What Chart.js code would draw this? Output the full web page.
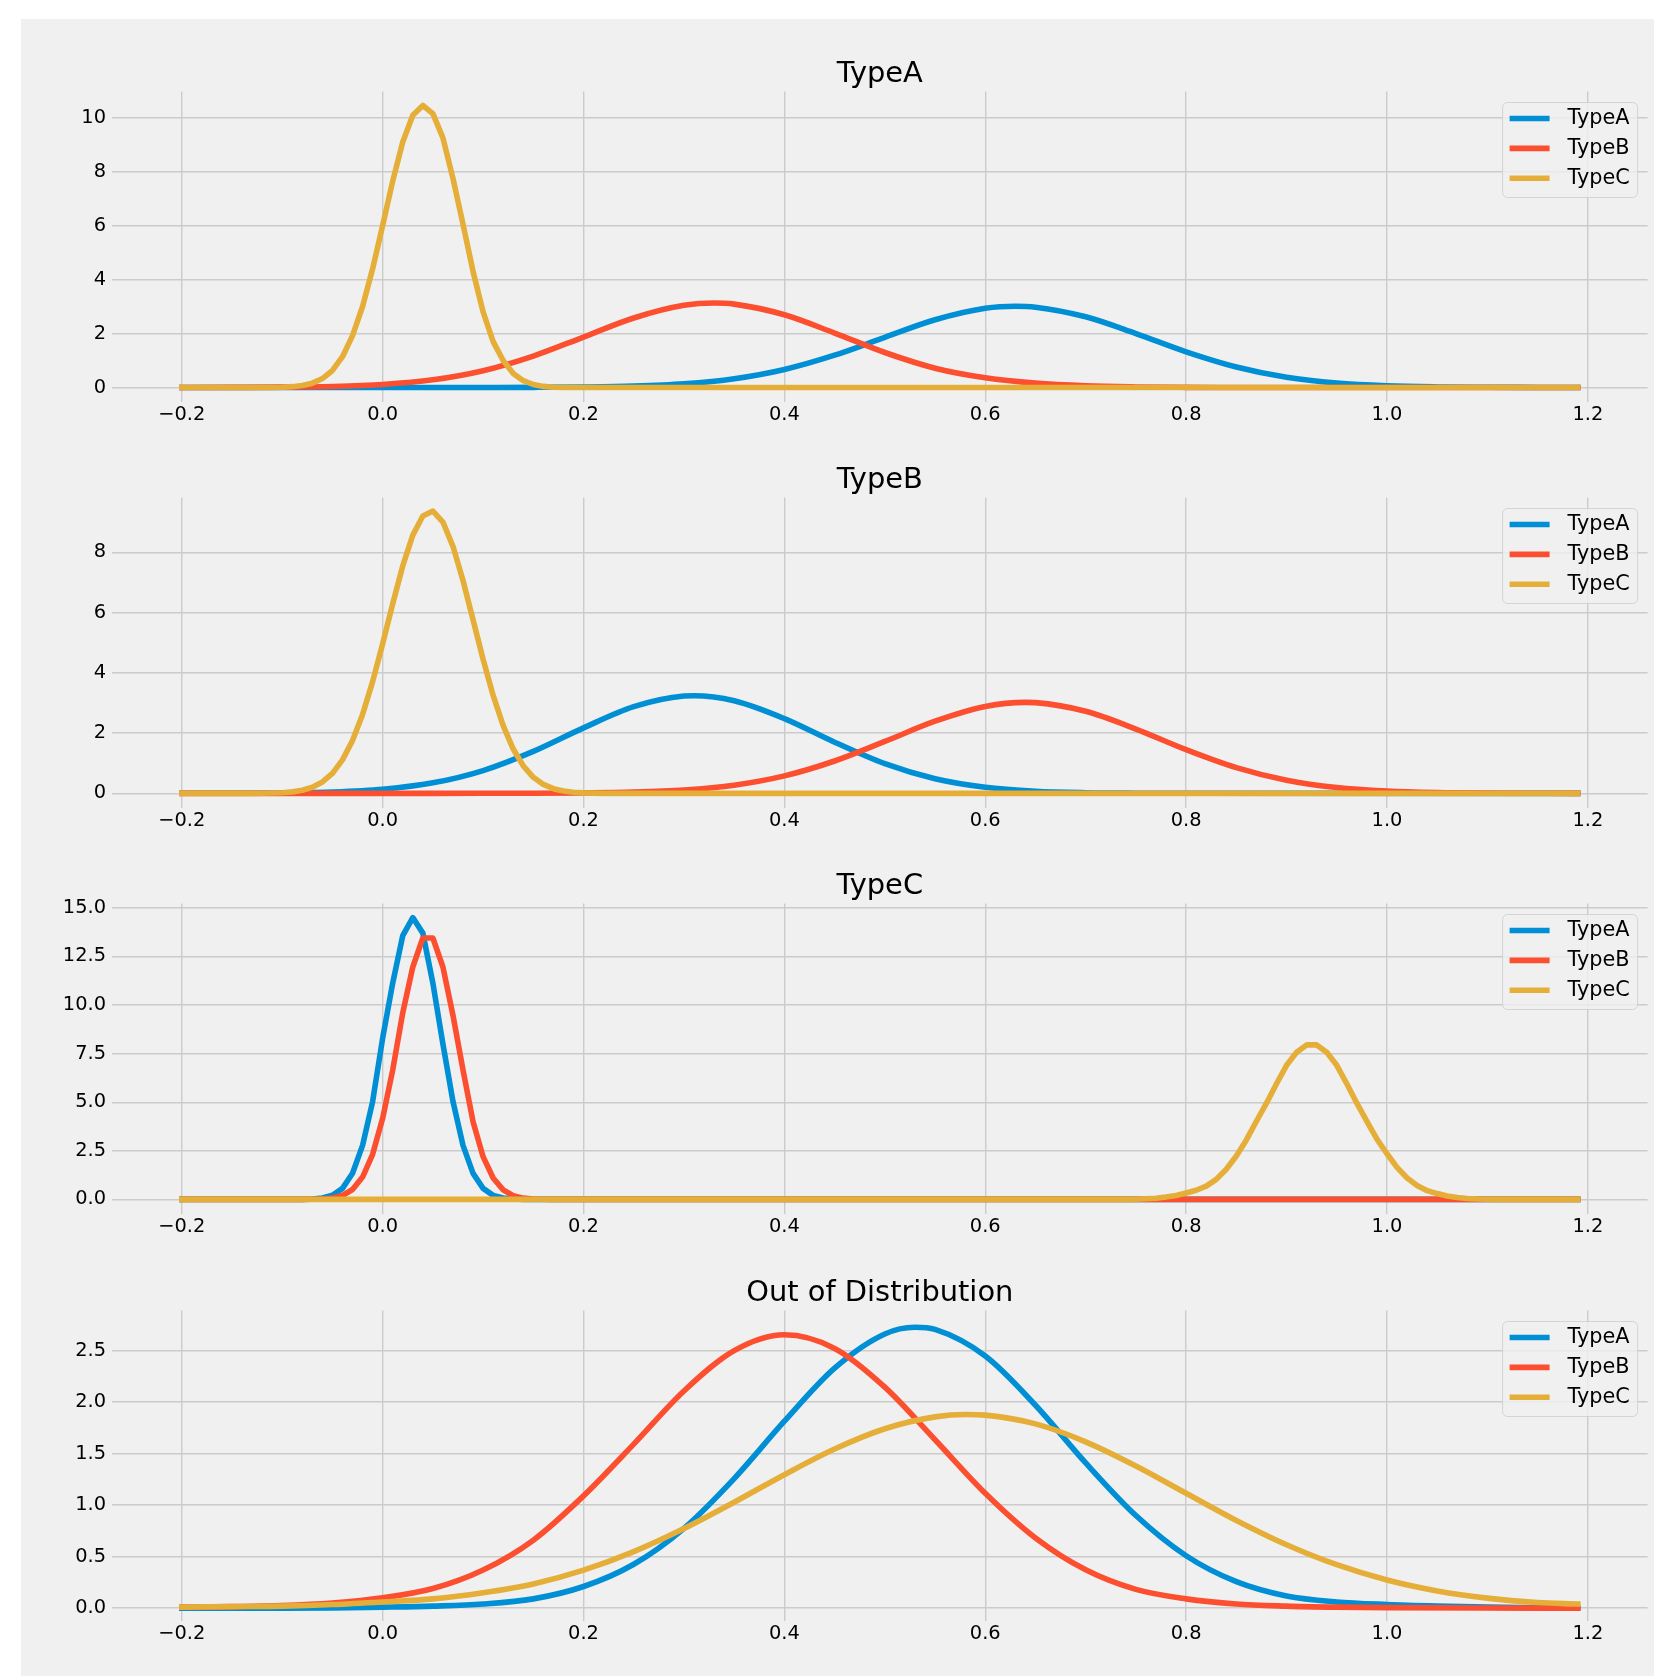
<!DOCTYPE html>
<html>
<head>
<meta charset="utf-8">
<script src="https://cdn.jsdelivr.net/npm/chart.js@4.4.1/dist/chart.umd.min.js"></script>
<style>
  html, body { margin: 0; padding: 0; background: #ffffff; }
  #fig { position: absolute; left: 21px; top: 19px; width: 1633px; height: 1657px; background: #f0f0f0; }
  canvas { position: absolute; left: 21px; }
</style>
</head>
<body>
<div id="fig"></div>
<canvas id="p0" width="1633" height="406" style="top:19px"></canvas>
<canvas id="p1" width="1633" height="406" style="top:425px"></canvas>
<canvas id="p2" width="1633" height="406" style="top:831px"></canvas>
<canvas id="p3" width="1633" height="438" style="top:1238px"></canvas>
<script>
// ---- data ----
const seriesNames = ['TypeA', 'TypeB', 'TypeC'];
const panelTitles = ['TypeA', 'TypeB', 'TypeC', 'Out of Distribution'];

const xTicks = [-0.2, 0, 0.2, 0.4, 0.6, 0.8, 1.0, 1.2];
const xTickLabels = ['\u22120.2', '0.0', '0.2', '0.4', '0.6', '0.8', '1.0', '1.2'];

const yTicksA = [0, 2, 4, 6, 8, 10];
const yLabelsA = ['0', '2', '4', '6', '8', '10'];
const yTicksB = [0, 2, 4, 6, 8];
const yLabelsB = ['0', '2', '4', '6', '8'];
const yTicksC = [0, 2.5, 5, 7.5, 10, 12.5, 15];
const yLabelsC = ['0.0', '2.5', '5.0', '7.5', '10.0', '12.5', '15.0'];
const yTicksD = [0, 0.5, 1, 1.5, 2, 2.5];
const yLabelsD = ['0.0', '0.5', '1.0', '1.5', '2.0', '2.5'];

// panel "TypeA"
const typeA_A = [[-0.2,0],[0.05,0],[0.1,0.001],[0.15,0.005],[0.2,0.016],[0.25,0.049],[0.3,0.135],[0.35,0.323],[0.4,0.667],[0.45,1.196],[0.5,1.86],[0.55,2.508],[0.6,2.935],[0.63,3.01],[0.65,2.976],[0.7,2.619],[0.75,1.997],[0.8,1.321],[0.85,0.758],[0.9,0.377],[0.95,0.163],[1.0,0.061],[1.05,0.02],[1.1,0.006],[1.15,0.001],[1.19,0]];
const typeA_B = [[-0.2,0.001],[-0.15,0.003],[-0.1,0.011],[-0.05,0.038],[0,0.113],[0.05,0.286],[0.1,0.623],[0.15,1.165],[0.2,1.869],[0.25,2.575],[0.3,3.045],[0.33,3.13],[0.35,3.09],[0.4,2.695],[0.45,2.017],[0.5,1.296],[0.55,0.715],[0.6,0.36],[0.65,0.16],[0.7,0.06],[0.75,0.02],[0.8,0.005],[0.85,0.001],[1.19,0]];
const typeA_C = [[-0.2,0],[-0.11,0],[-0.1,0.01],[-0.09,0.03],[-0.08,0.07],[-0.07,0.16],[-0.06,0.33],[-0.05,0.63],[-0.04,1.14],[-0.03,1.92],[-0.02,3.0],[-0.01,4.4],[0,6.01],[0.01,7.65],[0.02,9.1],[0.03,10.09],[0.04,10.45],[0.05,10.15],[0.06,9.25],[0.07,7.75],[0.08,6.05],[0.09,4.3],[0.1,2.8],[0.11,1.7],[0.12,1.0],[0.13,0.52],[0.14,0.25],[0.15,0.11],[0.16,0.04],[0.17,0.01],[0.18,0],[1.19,0]];

// panel "TypeB"
const typeB_A = [[-0.2,0.001],[-0.15,0.003],[-0.1,0.013],[-0.05,0.045],[0,0.136],[0.05,0.348],[0.1,0.756],[0.15,1.392],[0.2,2.173],[0.25,2.877],[0.3,3.23],[0.31,3.24],[0.35,3.073],[0.4,2.48],[0.45,1.697],[0.5,0.984],[0.55,0.484],[0.6,0.202],[0.65,0.071],[0.7,0.021],[0.75,0.005],[0.8,0.001],[1.19,0]];
const typeB_B = [[-0.2,0],[0.05,0],[0.1,0.001],[0.15,0.003],[0.2,0.012],[0.25,0.039],[0.3,0.11],[0.35,0.271],[0.4,0.58],[0.45,1.074],[0.5,1.722],[0.55,2.395],[0.6,2.884],[0.64,3.02],[0.65,3.011],[0.7,2.724],[0.75,2.135],[0.8,1.45],[0.85,0.853],[0.9,0.435],[0.95,0.192],[1.0,0.074],[1.05,0.024],[1.1,0.007],[1.15,0.002],[1.19,0]];
const typeB_C = [[-0.2,0],[-0.13,0],[-0.12,0.004],[-0.11,0.01],[-0.1,0.022],[-0.09,0.049],[-0.08,0.103],[-0.07,0.202],[-0.06,0.377],[-0.05,0.664],[-0.04,1.11],[-0.03,1.753],[-0.02,2.621],[-0.01,3.709],[0,4.967],[0.01,6.295],[0.02,7.549],[0.03,8.57],[0.04,9.206],[0.05,9.37],[0.06,9.005],[0.07,8.2],[0.08,7.066],[0.09,5.763],[0.1,4.449],[0.11,3.25],[0.12,2.247],[0.13,1.471],[0.14,0.91],[0.15,0.533],[0.16,0.296],[0.17,0.155],[0.18,0.077],[0.19,0.036],[0.2,0.016],[0.21,0.007],[0.22,0],[1.19,0]];

// panel "TypeC"
const typeC_A = [[-0.2,0],[-0.08,0],[-0.07,0.02],[-0.06,0.069],[-0.05,0.211],[-0.04,0.569],[-0.03,1.344],[-0.02,2.778],[-0.01,5.036],[0,8.3],[0.01,11.13],[0.02,13.57],[0.03,14.5],[0.04,13.7],[0.05,11.13],[0.06,8.0],[0.07,5.04],[0.08,2.78],[0.09,1.34],[0.1,0.57],[0.11,0.21],[0.12,0.07],[0.13,0.02],[0.14,0],[1.19,0]];
const typeC_B = [[-0.2,0],[-0.08,0],[-0.07,0.005],[-0.06,0.021],[-0.05,0.069],[-0.04,0.2],[-0.03,0.51],[-0.02,1.15],[-0.01,2.32],[0,4.17],[0.01,6.66],[0.02,9.6],[0.03,11.96],[0.04,13.45],[0.05,13.45],[0.06,11.96],[0.07,9.47],[0.08,6.66],[0.09,4.0],[0.1,2.2],[0.11,1.1],[0.12,0.49],[0.13,0.19],[0.14,0.065],[0.15,0.02],[0.16,0.005],[0.17,0],[1.19,0]];
const typeC_C = [[-0.2,0],[0.74,0],[0.75,0.01],[0.76,0.03],[0.77,0.06],[0.78,0.12],[0.79,0.2],[0.8,0.33],[0.81,0.47],[0.82,0.68],[0.83,1.03],[0.84,1.55],[0.85,2.23],[0.86,3.06],[0.87,4.02],[0.88,4.95],[0.89,5.95],[0.9,6.9],[0.91,7.57],[0.92,7.95],[0.93,7.95],[0.94,7.57],[0.95,6.9],[0.96,5.95],[0.97,4.95],[0.98,4.02],[0.99,3.1],[1.0,2.35],[1.01,1.65],[1.02,1.1],[1.03,0.72],[1.04,0.45],[1.05,0.3],[1.06,0.18],[1.07,0.1],[1.08,0.05],[1.09,0.02],[1.1,0.01],[1.11,0],[1.19,0]];

// panel "Out of Distribution"
const ood_A = [[-0.2,0],[-0.1,0],[-0.05,0.003],[0,0.01],[0.05,0.02],[0.1,0.04],[0.15,0.09],[0.2,0.21],[0.25,0.426],[0.3,0.775],[0.35,1.258],[0.4,1.815],[0.45,2.33],[0.5,2.662],[0.53,2.727],[0.55,2.706],[0.6,2.448],[0.65,1.97],[0.7,1.41],[0.75,0.899],[0.8,0.509],[0.85,0.257],[0.9,0.118],[0.95,0.06],[1.0,0.035],[1.05,0.02],[1.1,0.01],[1.15,0.004],[1.19,0.002]];
const ood_B = [[-0.2,0.01],[-0.15,0.015],[-0.1,0.025],[-0.05,0.05],[0,0.1],[0.05,0.19],[0.1,0.37],[0.15,0.66],[0.2,1.09],[0.25,1.592],[0.3,2.108],[0.35,2.5],[0.4,2.654],[0.45,2.522],[0.5,2.146],[0.55,1.635],[0.6,1.115],[0.65,0.681],[0.7,0.372],[0.75,0.182],[0.8,0.09],[0.85,0.04],[0.9,0.02],[0.95,0.01],[1.0,0.005],[1.1,0.001],[1.19,0]];
const ood_C = [[-0.2,0.01],[-0.15,0.015],[-0.1,0.02],[-0.05,0.035],[0,0.06],[0.05,0.09],[0.1,0.15],[0.15,0.235],[0.2,0.369],[0.25,0.549],[0.3,0.773],[0.35,1.029],[0.4,1.296],[0.45,1.545],[0.5,1.742],[0.55,1.857],[0.58,1.88],[0.6,1.874],[0.65,1.789],[0.7,1.615],[0.75,1.38],[0.8,1.115],[0.85,0.852],[0.9,0.616],[0.95,0.422],[1.0,0.273],[1.05,0.167],[1.1,0.097],[1.15,0.055],[1.19,0.04]];

// ---- styling ----
const colors = ['#008fd5', '#fc4f30', '#e5ae38'];
const FONT = 'DejaVu Sans';
Chart.defaults.font.family = FONT;
Chart.defaults.color = '#000';

const panels = [
  { id: 'p0', series: [typeA_A, typeA_B, typeA_C], smooth: [true, true, false], yMin: -0.52, yMax: 10.97, yTicks: yTicksA, yLabels: yLabelsA, padBottom: 0 },
  { id: 'p1', series: [typeB_A, typeB_B, typeB_C], smooth: [true, true, false], yMin: -0.47, yMax: 9.82, yTicks: yTicksB, yLabels: yLabelsB, padBottom: 0 },
  { id: 'p2', series: [typeC_A, typeC_B, typeC_C], smooth: [false, false, false], yMin: -0.725, yMax: 15.225, yTicks: yTicksC, yLabels: yLabelsC, padBottom: 0 },
  { id: 'p3', series: [ood_A, ood_B, ood_C], smooth: [true, true, true], yMin: -0.12, yMax: 2.89, yTicks: yTicksD, yLabels: yLabelsD, padBottom: 32 }
];

// title centred over the plot area, like matplotlib's ax.set_title
const axesTitle = {
  id: 'axesTitle',
  afterDraw(chart, args, opts) {
    const { ctx, chartArea } = chart;
    ctx.save();
    ctx.font = '28.9px "' + FONT + '"';
    ctx.fillStyle = '#000';
    ctx.textAlign = 'center';
    ctx.textBaseline = 'middle';
    ctx.fillText(opts.text, (chartArea.left + chartArea.right) / 2, chartArea.top - 17);
    ctx.restore();
  }
};

// matplotlib-like legend box in the upper right of the plot area
const insideLegend = {
  id: 'insideLegend',
  afterDatasetsDraw(chart) {
    const { ctx, chartArea } = chart;
    const w = 135, h = 95;
    const x0 = chartArea.right - 10 - w;
    const y0 = chartArea.top + 11;
    ctx.save();
    ctx.beginPath();
    ctx.roundRect(x0, y0, w, h, 5);
    ctx.fillStyle = 'rgba(240,240,240,0.8)';
    ctx.fill();
    ctx.strokeStyle = 'rgba(204,204,204,0.8)';
    ctx.lineWidth = 1;
    ctx.stroke();
    ctx.font = '20.8px "' + FONT + '"';
    ctx.textBaseline = 'alphabetic';
    chart.data.datasets.forEach((ds, i) => {
      const cy = y0 + 16 + i * 29.9;
      ctx.strokeStyle = ds.borderColor;
      ctx.lineWidth = 5.6;
      ctx.beginPath();
      ctx.moveTo(x0 + 7, cy);
      ctx.lineTo(x0 + 47, cy);
      ctx.stroke();
      ctx.fillStyle = '#000';
      ctx.fillText(ds.label, x0 + 65, cy + 5.8);
    });
    ctx.restore();
  }
};

panels.forEach((p, k) => {
  const datasets = p.series.map((pts, i) => ({
    label: seriesNames[i],
    data: pts.map(([x, y]) => ({ x, y })),
    borderColor: colors[i],
    backgroundColor: colors[i],
    borderWidth: 5.6,
    borderJoinStyle: 'round',
    borderCapStyle: 'square',
    pointRadius: 0,
    fill: false,
    cubicInterpolationMode: p.smooth[i] ? 'monotone' : 'default',
    tension: 0,
    order: 2 - i
  }));

  new Chart(document.getElementById(p.id), {
    type: 'line',
    data: { datasets },
    plugins: [insideLegend, axesTitle],
    options: {
      responsive: false,
      animation: false,
      devicePixelRatio: 1,
      layout: { padding: { top: 72.5, left: 0, right: 6.4, bottom: p.padBottom } },
      plugins: {
        legend: { display: false },
        tooltip: { enabled: false },
        title: { display: false },
        axesTitle: { text: panelTitles[k] }
      },
      scales: {
        x: {
          type: 'linear',
          min: -0.2695,
          max: 1.2595,
          afterBuildTicks: s => { s.ticks = xTicks.map(v => ({ value: v })); },
          afterFit: s => { s.height = 23.5; },
          grid: { color: '#cbcbcb', lineWidth: 1.4, drawTicks: false },
          border: { display: false },
          ticks: {
            padding: 2,
            maxRotation: 0,
            autoSkip: false,
            font: { size: 19.4 },
            callback: (v, i) => xTickLabels[i]
          }
        },
        y: {
          type: 'linear',
          min: p.yMin,
          max: p.yMax,
          afterBuildTicks: s => { s.ticks = p.yTicks.map(v => ({ value: v })); },
          afterFit: s => { s.width = 91; },
          grid: { color: '#cbcbcb', lineWidth: 1.4, drawTicks: false },
          border: { display: false },
          ticks: {
            padding: 6,
            autoSkip: false,
            font: { size: 19.4 },
            callback: (v, i) => p.yLabels[i]
          }
        }
      }
    }
  });
});
</script>
</body>
</html>
